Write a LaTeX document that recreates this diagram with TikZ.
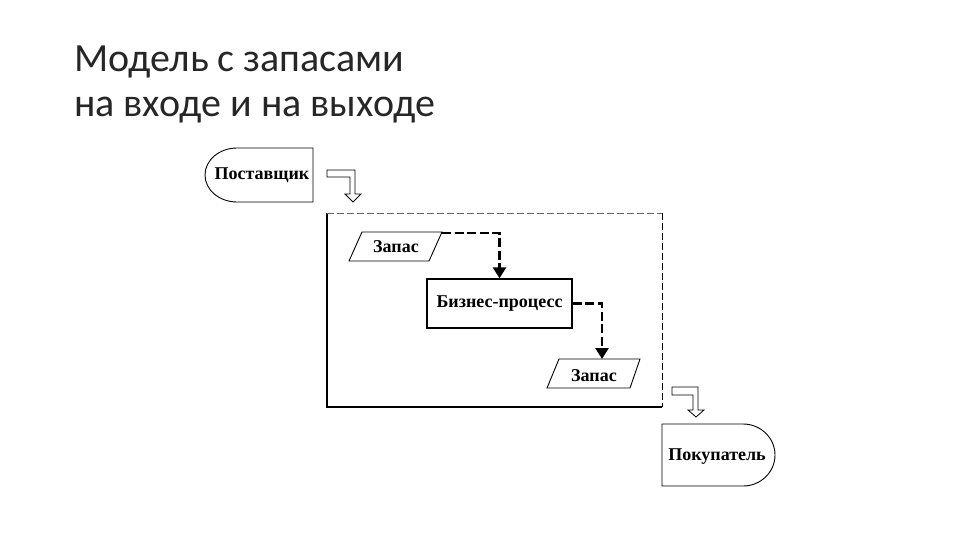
\documentclass[tikz,border=0pt]{standalone}
\usepackage{fontspec}
\setmainfont{Liberation Serif}
\newfontfamily\titlefont{Carlito}
\usetikzlibrary{arrows.meta}
\tikzset{
  lbl/.style={font=\fontsize{18}{20}\selectfont\bfseries, inner sep=0pt},
  thin/.style={line width=0.9pt},
  dflow/.style={line width=2.6pt, dash pattern=on 9pt off 3.5pt, -{Triangle[length=11pt,width=13pt]}},
  hollow/.style={line width=0.8pt, fill=white, line join=miter},
  ttl/.style={font=\titlefont\fontsize{40}{45}\selectfont, anchor=base west, inner sep=0pt, text=black!85}
}
\begin{document}
\begin{tikzpicture}[x=1pt,y=-1pt]
\useasboundingbox (0,0) rectangle (960,540);
\fill[white] (0,0) rectangle (960,540);
% title
\node[ttl] (t1) at (74,72) {Модель с запасами};
\node[ttl] (t2) at (74,117) {на входе и на выходе};
% supplier
\draw[thin] (313,148) -- (237,148) arc[start angle=90, end angle=270, x radius=32pt, y radius=27pt] -- (313,202) -- cycle;
\node[lbl] (sup) at (262,175) {Поставщик};
% hollow arrow 1
\draw[hollow] (327,170) -- (355,170) -- (355,194) -- (361,194) -- (353,202) -- (345,194) -- (350,194) -- (350,177) -- (327,177) -- cycle;
% big frame
\draw[line width=1.3pt] (662,407) -- (327,407) -- (327,213);
\draw[line width=0.8pt, black!60, dash pattern=on 7pt off 3pt] (327,213) -- (662,213);
\draw[line width=0.9pt, dash pattern=on 7pt off 3pt] (662,213) -- (662,407);
% stock 1
\draw[thin] (362,232) -- (442,232) -- (429,261) -- (349,261) -- cycle;
\node[lbl] (z1) at (396,247) {Запас};
\coordinate (z1tr) at (442,233);
% business process
\node[lbl, draw, line width=1.3pt, minimum width=145pt, minimum height=49pt] (bp) at (499.5,303.5) {Бизнес-процесс};
% stock 2
\draw[thin] (559,359) -- (640,359) -- (630,388) -- (547,388) -- cycle;
\node[lbl] (z2) at (594,376) {Запас};
\coordinate (z2t) at (602,359);
% dashed flows
\draw[dflow] (z1tr) -| (bp.north);
\draw[dflow] (bp.east) -| (z2t);
% hollow arrow 2
\draw[hollow] (672,387) -- (698,387) -- (698,410) -- (704,410) -- (696,417) -- (688,410) -- (693,410) -- (693,395) -- (672,395) -- cycle;
% customer
\draw[thin] (662,424) -- (743,424) arc[start angle=90, end angle=-90, x radius=32pt, y radius=31pt] -- (662,486) -- cycle;
\node[lbl] (cus) at (717,457) {Покупатель};
\end{tikzpicture}
\end{document}
